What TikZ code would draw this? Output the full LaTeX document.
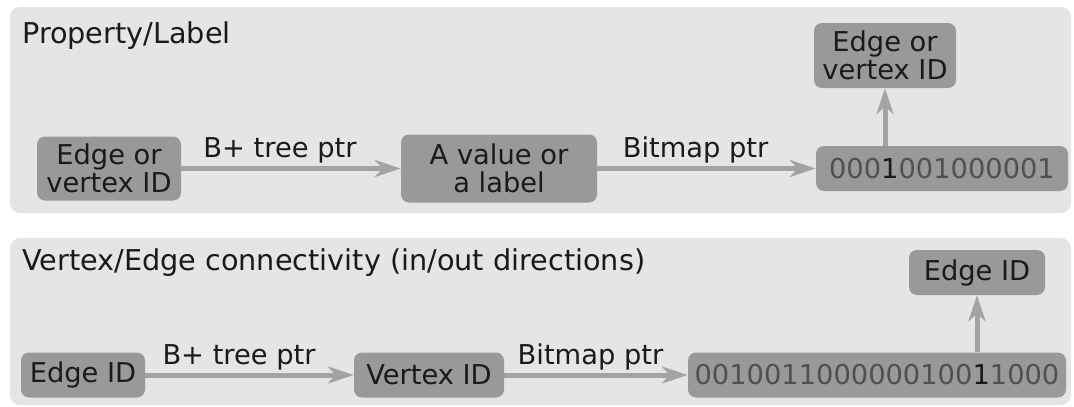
\documentclass[tikz,border=0pt]{standalone}
\usepackage{fontspec}
\setmainfont{DejaVu Sans}
\usetikzlibrary{arrows.meta}
\definecolor{panelgray}{HTML}{E5E5E5}
\definecolor{boxgray}{HTML}{999999}
\definecolor{arrowgray}{HTML}{A3A3A3}
\definecolor{bitgray}{HTML}{505050}
\definecolor{ink}{HTML}{1A1A1A}
\begin{document}
\begin{tikzpicture}[x=1pt,y=-1pt,
  font=\fontsize{27.3}{28.5}\selectfont,
  panel/.style={fill=panelgray, rounded corners=10pt},
  idbox/.style={fill=boxgray, rounded corners=8pt, text=ink, align=center, inner sep=0pt},
  bitbox/.style={idbox, text=bitgray},
  link/.style={draw=arrowgray, line width=5pt, -{Stealth[length=26pt,width=17pt,inset=8pt]}},
  linklabel/.style={text=ink, anchor=base, inner sep=0pt, yshift=11pt},
  paneltitle/.style={text=ink, anchor=base west, inner sep=0pt, font=\fontsize{28.7}{30}\selectfont}]
\useasboundingbox (0,0) rectangle (1074,407);

% panels
\fill[panel] (10,7) rectangle (1071,213);
\fill[panel] (10,238) rectangle (1071,405);

% property / label lookup
\node[paneltitle] (t1) at (22,43) {Property/Label};
\node[idbox, minimum width=144pt, minimum height=64pt] (p1) at (109,168.5) {Edge or\\vertex ID};
\node[idbox, minimum width=196pt, minimum height=68pt] (p2) at (499,168.5) {A value or\\a label};
\node[bitbox, minimum width=252pt, minimum height=45pt] (b1) at (942,168.5) {000{\color{ink}1}001000001};
\node[idbox, minimum width=142pt, minimum height=65pt] (p3) at (885,55.5) {Edge or\\vertex ID};

\draw[link] (p1.east) -- node[linklabel, pos=0.45] (l1) {B+ tree ptr} (p2.west);
\draw[link] (p2.east) -- node[linklabel, pos=0.45] (l2) {Bitmap ptr} (b1.west);
\draw[link] (b1.north -| p3.south) -- (p3.south);

% vertex / edge connectivity
\node[paneltitle] (t2) at (22,270) {Vertex/Edge connectivity (in/out directions)};
\node[idbox, minimum width=124pt, minimum height=45pt] (e1) at (83,375) {Edge ID};
\node[idbox, minimum width=150pt, minimum height=45pt] (v1) at (429,375) {Vertex ID};
\node[bitbox, minimum width=378pt, minimum height=45pt] (b2) at (877,375) {0010011000000100{\color{ink}1}1000};
\node[idbox, minimum width=136pt, minimum height=45pt] (e2) at (977,272.5) {Edge ID};

\draw[link] (e1.east) -- node[linklabel, pos=0.45] (l3) {B+ tree ptr} (v1.west);
\draw[link] (v1.east) -- node[linklabel, pos=0.47] (l4) {Bitmap ptr} (b2.west);
\draw[link] (b2.north -| e2.south) -- (e2.south);
\end{tikzpicture}
\end{document}
